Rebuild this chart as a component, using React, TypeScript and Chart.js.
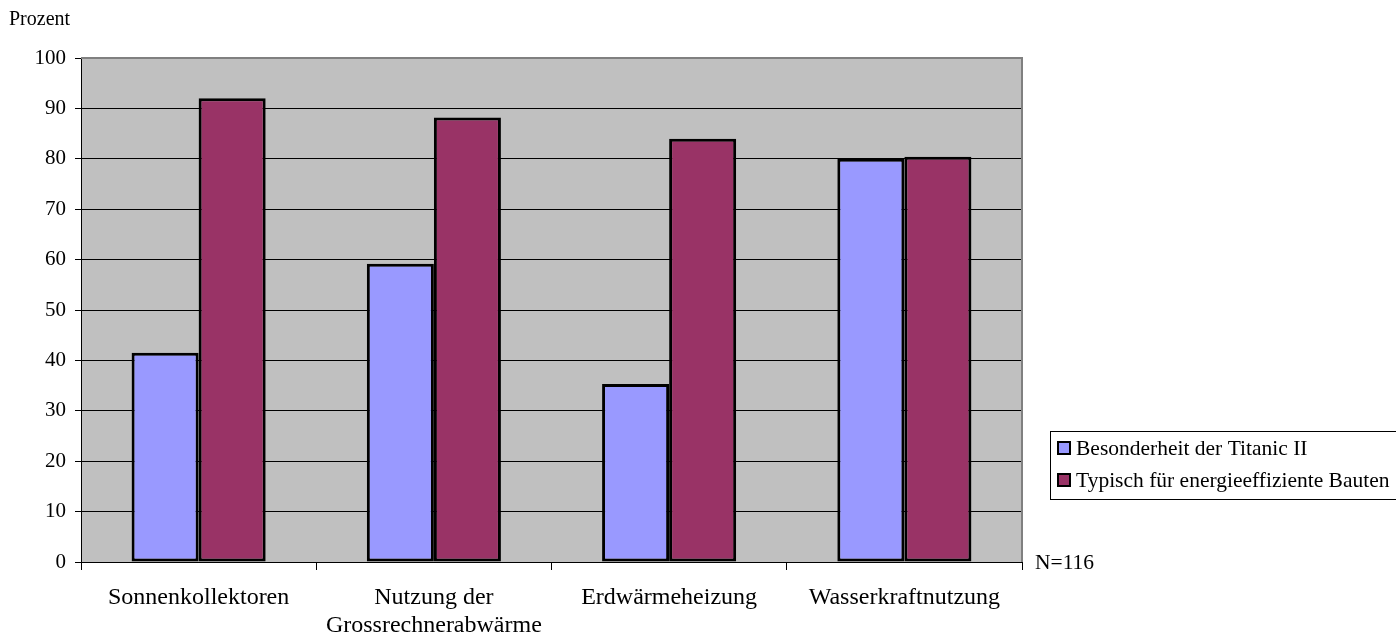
import React, { useEffect, useRef } from "react";
import { Chart, registerables } from "chart.js";

Chart.register(...registerables);

const categories: (string | string[])[] = [
  "Sonnenkollektoren",
  ["Nutzung der", "Grossrechnerabwärme"],
  "Erdwärmeheizung",
  "Wasserkraftnutzung",
];
const seriesNames = ["Besonderheit der Titanic II", "Typisch für energieeffiziente Bauten"];
const besonderheit = [41.5, 59.2, 35.3, 80.0];
const typisch = [92.0, 88.2, 84.0, 80.4];
const yTicks = [0, 10, 20, 30, 40, 50, 60, 70, 80, 90, 100];
const yAxisTitle = "Prozent";
const noteText = "N=116";

const BLUE = "#9999FF";
const RED = "#993366";
const FONT = "'Liberation Serif', 'Times New Roman', serif";

const decorPlugin = {
  id: "decor",
  beforeDraw(chart: any) {
    const { ctx, chartArea: a } = chart;
    ctx.save();
    ctx.fillStyle = "#C0C0C0";
    ctx.fillRect(a.left, a.top, a.right - a.left, a.bottom - a.top);
    ctx.restore();
  },
  beforeDatasetsDraw(chart: any) {
    const { ctx, chartArea: a } = chart;
    ctx.save();
    ctx.strokeStyle = "#808080";
    ctx.lineWidth = 2;
    ctx.beginPath();
    ctx.moveTo(a.left, a.top);
    ctx.lineTo(a.right, a.top);
    ctx.lineTo(a.right, a.bottom);
    ctx.stroke();
    ctx.restore();
  },
  afterDraw(chart: any) {
    const { ctx, chartArea: a } = chart;
    ctx.save();
    ctx.fillStyle = "#000";
    ctx.textBaseline = "middle";
    ctx.textAlign = "left";
    ctx.font = `20px ${FONT}`;
    ctx.fillText(yAxisTitle, 9, 20);
    ctx.font = `21.5px ${FONT}`;
    ctx.fillText(noteText, a.right + 13, a.bottom + 1);

    // legend
    const lx = 1050, ly = 431, lw = 360, lh = 68;
    ctx.fillStyle = "#fff";
    ctx.fillRect(lx, ly, lw, lh);
    ctx.strokeStyle = "#000";
    ctx.lineWidth = 1;
    ctx.strokeRect(lx + 0.5, ly + 0.5, lw, lh);
    const colors = [BLUE, RED];
    seriesNames.forEach((name, i) => {
      const cy = ly + 17 + i * 32;
      ctx.fillStyle = colors[i];
      ctx.fillRect(lx + 8, cy - 6, 12, 12);
      ctx.strokeStyle = "#000";
      ctx.lineWidth = 2;
      ctx.strokeRect(lx + 8, cy - 6, 12, 12);
      ctx.fillStyle = "#000";
      ctx.font = `21.5px ${FONT}`;
      ctx.fillText(name, lx + 26, cy + 1);
    });
    ctx.restore();
  },
};

export default function App() {
  const ref = useRef<HTMLCanvasElement | null>(null);
  useEffect(() => {
    if (!ref.current) return;
    const chart = new Chart(ref.current, {
      type: "bar",
      data: {
        labels: categories,
        datasets: [
          {
            label: seriesNames[0],
            data: besonderheit,
            backgroundColor: BLUE,
            borderColor: "#000",
            borderWidth: 3,
            borderSkipped: false,
          },
          {
            label: seriesNames[1],
            data: typisch,
            backgroundColor: RED,
            borderColor: "#000",
            borderWidth: 3,
            borderSkipped: false,
          },
        ],
      },
      options: {
        animation: false,
        responsive: true,
        maintainAspectRatio: false,
        layout: { padding: { top: 58, right: 374, left: 0, bottom: 0 } },
        datasets: { bar: { categoryPercentage: 0.57, barPercentage: 1.0 } },
        plugins: {
          legend: { display: false },
          tooltip: { enabled: false },
        },
        scales: {
          x: {
            offset: true,
            grid: {
              offset: true,
              drawOnChartArea: false,
              drawTicks: true,
              tickLength: 8,
              color: "#000",
            },
            border: { display: true, color: "#000", width: 1 },
            ticks: {
              color: "#000",
              font: { family: FONT, size: 24, lineHeight: 28 / 24 },
              padding: 14,
              maxRotation: 0,
              autoSkip: false,
            },
            afterFit(scale: any) {
              scale.height = 76;
            },
          },
          y: {
            min: 0,
            max: 100,
            afterBuildTicks(scale: any) {
              scale.ticks = yTicks.map((v) => ({ value: v }));
            },
            grid: {
              color: (c: any) => (c.tick && c.tick.value === 100 ? "#808080" : "#000"),
              tickColor: "#000",
              tickLength: 6,
              lineWidth: 1,
            },
            border: { display: true, color: "#000", width: 1 },
            ticks: {
              color: "#000",
              font: { family: FONT, size: 21 },
              padding: 9,
            },
            afterFit(scale: any) {
              scale.width = 81;
            },
          },
        },
      },
      plugins: [decorPlugin],
    });
    return () => chart.destroy();
  }, []);
  return (
    <div style={{ position: "fixed", left: 0, top: 0, width: 1396, height: 638, background: "#fff" }}>
      <canvas ref={ref} />
    </div>
  );
}
